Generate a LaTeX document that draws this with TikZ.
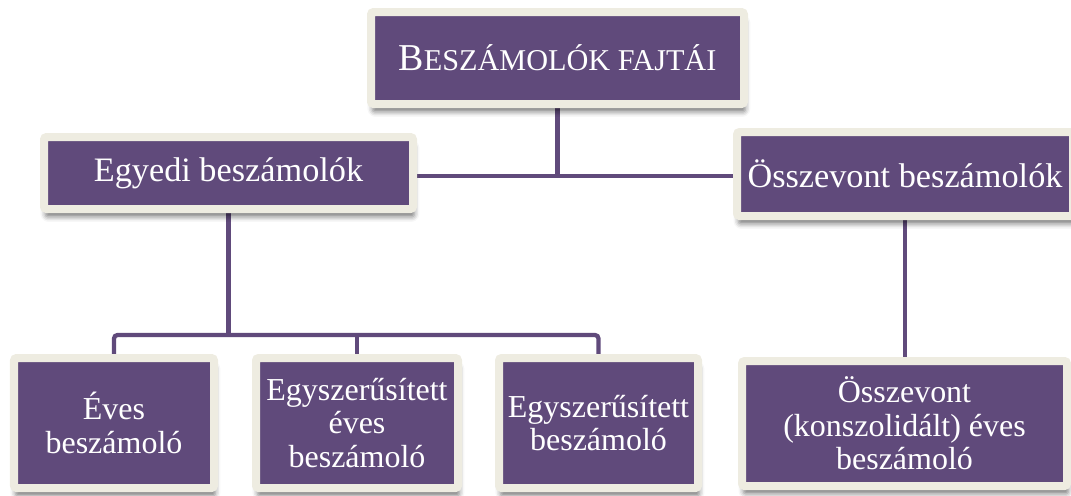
\documentclass[tikz,border=0pt]{standalone}
\usepackage{fontspec}
\setmainfont{Liberation Serif}
\usepackage{tikz}
\usetikzlibrary{backgrounds, shadows.blur}

\definecolor{boxpurple}{HTML}{604A7B}
\definecolor{boxrim}{HTML}{EEECE1}
% hand-made small caps (Liberation Serif has none)
\newcommand{\kiskap}[1]{{\fontsize{17.2}{20}\selectfont #1}}

\begin{document}
\begin{tikzpicture}[
  box/.style   = {rectangle, rounded corners=1.5pt, draw=boxrim, line width=0.16cm,
                  fill=boxpurple, text=white, align=center, inner sep=0pt,
                  blur shadow={shadow xshift=0.8pt, shadow yshift=-4.5pt,
                               shadow blur radius=2.8pt, shadow opacity=50}},
  headbox/.style = {box, minimum width=7.46cm, minimum height=1.84cm,
                    font=\fontsize{21.6}{24}\selectfont},
  groupbox/.style = {box, minimum height=1.44cm, font=\fontsize{19.5}{22}\selectfont},
  leafbox/.style  = {box, minimum height=2.6cm, font=\fontsize{18.2}{19}\selectfont},
  link/.style  = {line width=0.085cm, draw=boxpurple, rounded corners=2pt},
]
  \useasboundingbox (0,0) rectangle (21.42,-9.9);

  \node[headbox] (title) at (11.15,-1.16) {B\kiskap{ESZÁMOLÓK FAJTÁI}};

  \node[groupbox, minimum width=7.38cm] (egyedi)    at (4.57,-3.46)  {Egyedi beszámolók};
  \node[groupbox, minimum width=6.72cm, minimum height=1.68cm]
                                         (osszevont) at (18.10,-3.48) {Összevont beszámolók};

  \node[leafbox, minimum width=4.0cm]  (eves)      at (2.28,-8.46)  {Éves\\beszámoló};
  \node[leafbox, minimum width=4.04cm] (egyszeves) at (7.14,-8.46)  {Egyszerűsített\\éves\\beszámoló};
  \node[leafbox, minimum width=3.98cm] (egyszbesz) at (11.97,-8.46) {Egyszerűsített\\beszámoló};
  \node[leafbox, minimum width=6.5cm, minimum height=2.5cm]
                                        (konsz)     at (18.09,-8.47) {Összevont\\(konszolidált) éves\\beszámoló};

  \coordinate (topjoin) at (title.south |- 0,-3.52);
  \coordinate (split)   at (egyedi.south |- 0,-6.70);

  \begin{scope}[on background layer]
    \draw[link] (title.south) -- (topjoin);
    \draw[link] (egyedi.east |- topjoin) -- (osszevont.west |- topjoin);
    \draw[link] (egyedi.south) -- (split);
    \draw[link] (eves.north) -- (eves.north |- split) -- (egyszbesz.north |- split) -- (egyszbesz.north);
    \draw[link] (egyszeves.north |- split) -- (egyszeves.north);
    \draw[link] (osszevont.south) -- (osszevont.south |- konsz.north);
  \end{scope}
\end{tikzpicture}
\end{document}
